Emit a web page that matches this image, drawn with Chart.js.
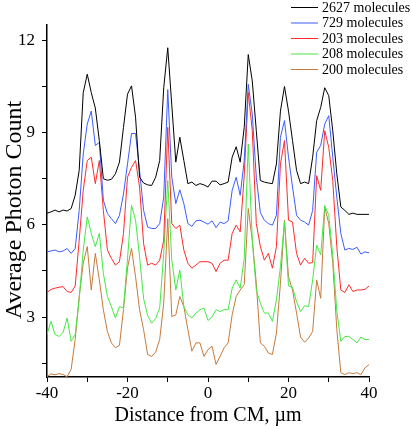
<!DOCTYPE html>
<html>
<head>
<meta charset="utf-8">
<script src="https://cdn.jsdelivr.net/npm/chart.js@4/dist/chart.umd.min.js"></script>
<style>
html,body{margin:0;padding:0;background:#fff;}
#wrap{position:relative;width:411px;height:430px;}
</style>
</head>
<body>
<div id="wrap"><canvas id="c" width="411" height="430"></canvas></div>
<script>
// ---- data ----
const xPositions = [-40,-39,-38,-37,-36,-35,-34,-33,-32,-31,-30,-29,-28,-27,-26,-25,-24,-23,-22,-21,-20,-19,-18,-17,-16,-15,-14,-13,-12,-11,-10,-9,-8,-7,-6,-5,-4,-3,-2,-1,0,1,2,3,4,5,6,7,8,9,10,11,12,13,14,15,16,17,18,19,20,21,22,23,24,25,26,27,28,29,30,31,32,33,34,35,36,37,38,39,40];

const seriesLabels = ['2627 molecules','729 molecules','203 molecules','208 molecules','200 molecules'];

const mol2627 = [6.38,6.42,6.48,6.42,6.48,6.45,6.53,6.96,7.77,10.3,10.9,10.3,9.8,8.74,7.5,7.45,7.48,7.66,8.04,9.17,10.25,10.52,9.5,7.55,7.36,7.3,7.28,7.55,8.09,10.46,11.76,9.9,8.04,8.85,8.09,7.34,7.39,7.28,7.34,7.3,7.23,7.42,7.42,7.3,7.34,7.39,8.2,8.54,8.04,9.17,11.54,10.68,9.06,7.44,7.39,7.36,7.34,7.98,9.7,10.5,9.7,8.74,7.77,7.34,7.39,7.34,8.2,9.39,9.82,10.46,10.2,9.06,7.66,6.58,6.47,6.34,6.38,6.34,6.34,6.34,6.34];

const mol729 = [5.12,5.15,5.18,5.12,5.15,5.23,5.07,5.23,6.47,8.3,9.28,9.7,8.58,8.68,6.8,6.37,6.2,6.04,6.31,7.0,7.98,8.97,8.97,7.77,6.47,5.93,5.88,5.88,6.04,6.9,10.4,7.55,6.69,7.14,6.69,6.04,5.95,6.13,6.15,6.09,6.02,6.13,5.91,6.09,6.04,6.13,7.12,7.55,6.96,8.09,10.57,9.6,7.55,6.4,6.15,6.04,5.99,6.31,8.85,9.39,8.2,7.23,6.31,6.15,6.09,5.99,6.47,8.36,8.58,9.28,9.55,8.2,6.9,5.72,5.18,5.23,5.2,5.27,5.05,5.12,5.09];

const mol203 = [3.8,3.9,3.94,3.97,3.99,3.83,3.8,4.01,5.5,7.12,8.09,8.2,7.34,8.09,6.47,5.18,4.91,4.69,4.8,5.72,7.55,7.87,8.09,7.23,5.39,4.69,4.75,4.69,4.85,5.5,9.17,6.04,5.88,5.99,5.18,4.75,4.59,4.69,4.8,4.8,4.8,4.75,4.48,4.75,4.85,4.85,5.72,5.99,5.77,7.6,10.3,9.06,6.04,5.3,4.85,5.07,4.59,5.29,7.98,8.74,6.15,6.09,5.07,4.69,4.91,4.75,4.77,7.6,7.12,9.06,8.52,7.44,5.29,3.88,3.8,4.05,3.83,3.88,3.88,3.9,4.01];

const mol208 = [2.43,2.86,2.43,2.37,2.5,2.97,2.21,2.43,3.56,5.18,6.26,5.72,5.29,5.72,4.42,3.67,3.34,2.97,3.34,3.3,4.9,6.63,6.15,4.96,3.6,3.05,2.8,2.95,3.3,5.07,7.44,4.85,3.88,4.53,3.34,3.07,2.97,3.13,3.24,3.29,2.89,3.0,3.24,3.18,3.24,3.24,3.94,4.21,3.94,4.91,8.63,5.5,3.88,3.45,3.13,3.13,2.86,3.56,4.64,6.1,4.01,3.97,3.5,3.18,3.37,3.34,4.21,5.34,5.02,6.63,6.31,5.0,3.2,2.21,2.37,2.37,2.27,2.16,2.35,2.27,2.27];

const mol200 = [1.06,1.15,1.12,1.16,1.13,1.06,1.3,2.27,3.67,4.75,5.29,3.88,5.07,4.21,3.24,2.53,2.16,2.0,2.08,3.24,4.6,5.23,4.31,3.24,2.59,1.78,1.72,1.86,2.27,3.45,6.2,3.02,3.07,3.67,3.34,2.59,1.89,2.16,2.16,1.72,1.94,2.05,1.46,1.72,2.0,2.16,3.07,3.67,3.88,4.05,6.53,5.5,4.1,2.16,2.05,1.83,1.78,2.48,4.1,6.15,4.31,3.88,3.13,2.35,2.18,2.32,2.53,4.21,3.61,6.58,6.04,4.75,2.6,1.19,1.13,1.19,1.16,1.19,1.13,1.35,1.45];

const xTickLabels = [-40,-20,0,20,40];
const yTickValues = [1.5,3,4.5,6,7.5,9,10.5,12];
const yTickLabels = [3,6,9,12];

// ---- styles ----
const seriesColors = ['#000000','#3d5cff','#ff2a2a','#45e845','#c77a3c'];
const FAMILY = "'Liberation Serif','Times New Roman','DejaVu Serif',serif";
const allSeries = [mol2627, mol729, mol203, mol208, mol200];

const datasets = allSeries.map((arr, k) => ({
  label: seriesLabels[k],
  data: xPositions.map((x, i) => ({x: x, y: arr[i]})),
  borderColor: seriesColors[k],
  backgroundColor: seriesColors[k],
  borderWidth: 1,
  pointRadius: 0,
  tension: 0,
  fill: false
}));

const legendPlugin = {
  id: 'insideLegend',
  afterDraw(chart) {
    const ctx = chart.ctx;
    ctx.save();
    ctx.font = "14px " + FAMILY;
    ctx.textBaseline = 'middle';
    ctx.textAlign = 'left';
    chart.data.datasets.forEach((ds, i) => {
      const y = 7 + i * 15.5;
      ctx.strokeStyle = ds.borderColor;
      ctx.lineWidth = 1;
      ctx.beginPath();
      ctx.moveTo(291, y + 0.5);
      ctx.lineTo(318, y + 0.5);
      ctx.stroke();
      ctx.fillStyle = '#000';
      ctx.fillText(ds.label, 322, y + 1);
    });
    ctx.restore();
  }
};

Chart.defaults.color = '#000';
Chart.defaults.font.family = FAMILY;

new Chart(document.getElementById('c'), {
  type: 'line',
  data: { datasets: datasets },
  plugins: [legendPlugin],
  options: {
    responsive: false,
    animation: false,
    layout: { padding: { top: 25, right: 42, left: 0, bottom: 0 } },
    plugins: { legend: { display: false }, tooltip: { enabled: false } },
    scales: {
      x: {
        type: 'linear',
        min: -40, max: 40,
        ticks: {
          stepSize: 10, autoSkip: false, maxRotation: 0, padding: 1,
          font: { size: 17, family: FAMILY },
          callback: (v) => xTickLabels.includes(v) ? String(v) : ''
        },
        grid: { drawOnChartArea: false, drawTicks: true, tickLength: 5, color: '#000' },
        border: { color: '#000', width: 1.5 },
        title: { display: true, text: 'Distance from CM, µm', font: { size: 20, family: FAMILY }, padding: { top: 0, bottom: 2 } },
        afterFit: (s) => { s.height = 53; }
      },
      y: {
        type: 'linear',
        min: 1.05, max: 12.5,
        afterBuildTicks: (s) => { s.ticks = yTickValues.map(v => ({ value: v })); },
        ticks: {
          padding: 7,
          font: { size: 17, family: FAMILY },
          callback: (v) => yTickLabels.includes(v) ? String(v) : ''
        },
        grid: { drawOnChartArea: false, drawTicks: true, tickLength: 5, color: '#000' },
        border: { color: '#000', width: 1.5 },
        title: { display: true, text: 'Average Photon Count   ', font: { size: 24, family: FAMILY }, padding: { top: 0, bottom: 0 } },
        afterFit: (s) => { s.width = 47; }
      }
    }
  }
});
</script>
</body>
</html>
